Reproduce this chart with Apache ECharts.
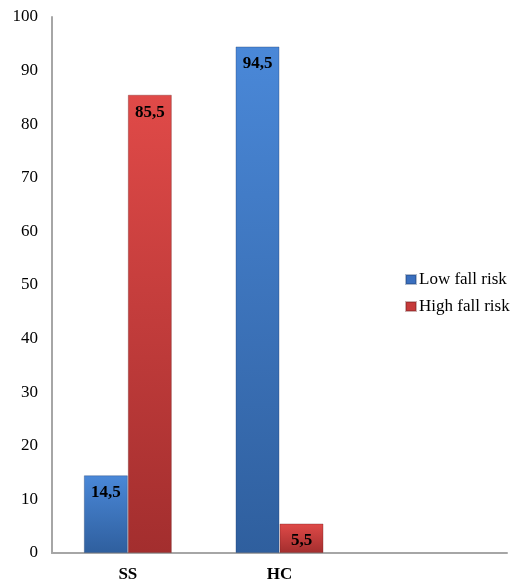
<!DOCTYPE html>
<html>
<head>
<meta charset="utf-8">
<script src="https://cdn.jsdelivr.net/npm/echarts@6/dist/echarts.min.js"></script>
<style>
html,body{margin:0;padding:0;background:#fff;}
#chart{width:514px;height:583px;}
</style>
</head>
<body>
<div id="chart"></div>
<script>
// Fall-risk shares by group (percent)
const categories = ['SS', 'HC', ''];
const lowFallRisk = [14.5, 94.5, null];
const highFallRisk = [85.5, 5.5, null];
const yTicks = { min: 0, max: 100, interval: 10 };

const serif = '"Liberation Serif", "Times New Roman", serif';

function grad(top, bottom) {
  return new echarts.graphic.LinearGradient(0, 0, 0, 1, [
    { offset: 0, color: top },
    { offset: 1, color: bottom }
  ]);
}

const fmt = p => String(p.value).replace('.', ',');

const chart = echarts.init(document.getElementById('chart'));
chart.setOption({
  animation: false,
  backgroundColor: '#fff',
  grid: { left: 52, right: 7, top: 17, bottom: 29, containLabel: false },
  legend: {
    orient: 'vertical',
    left: 400,
    top: 266,
    itemWidth: 10,
    itemHeight: 9,
    itemGap: 10,
    icon: 'rect',
    textStyle: { fontFamily: serif, fontSize: 17, color: '#000', padding: [0, 0, 0, -2] },
    data: [
      { name: 'Low fall risk', itemStyle: { color: '#3a6fbf' } },
      { name: 'High fall risk', itemStyle: { color: '#c63a3a' } }
    ]
  },
  xAxis: {
    type: 'category',
    data: categories,
    axisLine: { lineStyle: { color: '#a6a6a6', width: 2 } },
    axisTick: { show: false },
    axisLabel: { fontFamily: serif, fontSize: 17, fontWeight: 'bold', color: '#000', margin: 13 }
  },
  yAxis: {
    type: 'value',
    min: yTicks.min,
    max: yTicks.max,
    interval: yTicks.interval,
    axisLine: { show: true, lineStyle: { color: '#a6a6a6', width: 2 } },
    axisTick: { show: false },
    splitLine: { show: false },
    axisLabel: { fontFamily: serif, fontSize: 17, color: '#000', margin: 14 }
  },
  series: [
    {
      name: 'Low fall risk',
      type: 'bar',
      data: lowFallRisk,
      barWidth: 44,
      barGap: '0%',
      itemStyle: { color: grad('#4a88d8', '#2f5f9e'), borderColor: 'rgba(30,60,110,0.35)', borderWidth: 1 },
      label: { show: true, position: 'insideTop', distance: 9, formatter: fmt,
        fontFamily: serif, fontSize: 17, fontWeight: 'bold', color: '#000' }
    },
    {
      name: 'High fall risk',
      type: 'bar',
      data: highFallRisk,
      barWidth: 44,
      itemStyle: { color: grad('#e04a48', '#a32e2e'), borderColor: 'rgba(110,30,30,0.35)', borderWidth: 1 },
      label: { show: true, position: 'insideTop', distance: 9, formatter: fmt,
        fontFamily: serif, fontSize: 17, fontWeight: 'bold', color: '#000' }
    }
  ]
});
</script>
</body>
</html>
